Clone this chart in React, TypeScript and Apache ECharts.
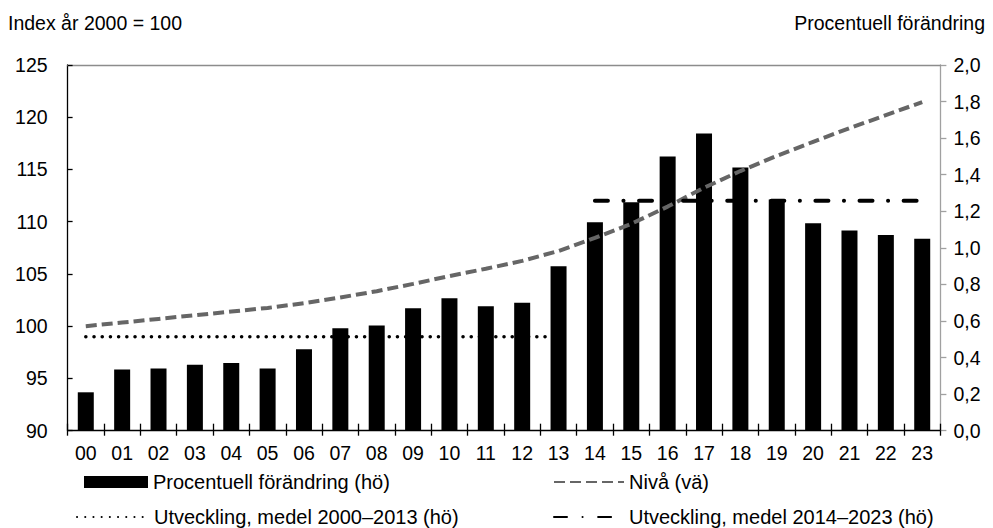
import React, { useEffect, useRef } from "react";
import * as echarts from "echarts";

const categories = ["00","01","02","03","04","05","06","07","08","09","10","11","12","13","14","15","16","17","18","19","20","21","22","23"];
const procentuellForandring = [0.21,0.335,0.34,0.36,0.37,0.34,0.445,0.56,0.575,0.67,0.725,0.68,0.70,0.90,1.14,1.25,1.50,1.625,1.44,1.265,1.135,1.095,1.07,1.05];
const niva = [100.0,100.35,100.7,101.05,101.4,101.75,102.2,102.75,103.35,104.05,104.8,105.5,106.25,107.2,108.45,109.8,111.45,113.25,114.85,116.3,117.65,118.95,120.2,121.45];
const medel2000_2013 = [0.514,0.514,0.514,0.514,0.514,0.514,0.514,0.514,0.514,0.514,0.514,0.514,0.514,0.514,null,null,null,null,null,null,null,null,null,null];
const medel2014_2023 = [null,null,null,null,null,null,null,null,null,null,null,null,null,null,1.257,1.257,1.257,1.257,1.257,1.257,1.257,1.257,1.257,1.257];

const leftTitle = "Index år 2000 = 100";
const rightTitle = "Procentuell förändring";
const names = {
  bar: "Procentuell förändring (hö)",
  niva: "Nivå (vä)",
  m1: "Utveckling, medel 2000–2013 (hö)",
  m2: "Utveckling, medel 2014–2023 (hö)",
};

const FONT = "Liberation Sans, Arial, sans-serif";
const FS = 19.5;
const LFS = 20;

export default function App() {
  const ref = useRef<HTMLDivElement>(null);
  useEffect(() => {
    if (!ref.current) return;
    const chart = echarts.init(ref.current, undefined, { renderer: "svg" });
    const textStyle = { fontFamily: FONT, fontSize: FS, color: "#000" };
    const legendText = { fontFamily: FONT, fontSize: LFS, color: "#000" };
    const hiddenSymbol = { opacity: 0 };
    chart.setOption({
      animation: false,
      backgroundColor: "#fff",
      textStyle: { fontFamily: FONT },
      grid: { left: 67.6, right: 52.6, top: 65, bottom: 97.3, containLabel: false },
      xAxis: [
        {
          type: "category",
          data: categories,
          position: "bottom",
          boundaryGap: true,
          axisLine: { show: true, lineStyle: { color: "#000", width: 1.3 } },
          axisTick: { show: true, inside: false, length: 5, lineStyle: { color: "#000", width: 1.3 } },
          axisLabel: { ...textStyle, margin: 12 },
          splitLine: { show: false },
        },
        {
          type: "category",
          data: categories,
          position: "bottom",
          boundaryGap: true,
          axisLine: { show: false },
          axisTick: { show: true, inside: true, length: 7, lineStyle: { color: "#000", width: 1.3 } },
          axisLabel: { show: false },
          splitLine: { show: false },
        },
        {
          type: "category",
          data: categories,
          position: "top",
          boundaryGap: true,
          axisLine: { show: true, lineStyle: { color: "#8c8c8c", width: 1.3 } },
          axisTick: { show: false },
          axisLabel: { show: false },
          splitLine: { show: false },
        },
      ],
      yAxis: [
        {
          type: "value",
          position: "left",
          min: 90,
          max: 125,
          interval: 5,
          axisLine: { show: true, lineStyle: { color: "#000", width: 1.3 } },
          axisTick: { show: true, inside: true, length: 5, lineStyle: { color: "#000", width: 1.3 } },
          axisLabel: { ...textStyle, margin: 20 },
          splitLine: { show: false },
        },
        {
          type: "value",
          position: "right",
          min: 0,
          max: 2,
          interval: 0.2,
          axisLine: { show: true, lineStyle: { color: "#a0a0a0", width: 1.3 } },
          axisTick: { show: true, inside: false, length: 6, lineStyle: { color: "#a0a0a0", width: 1.3 } },
          axisLabel: {
            ...textStyle,
            margin: 13,
            formatter: (v: number) => v.toFixed(1).replace(".", ","),
          },
          splitLine: { show: false },
        },
      ],
      legend: [
        {
          data: [{ name: names.bar, icon: "rect" }],
          left: 84, top: 472, padding: 0,
          itemWidth: 64, itemHeight: 12,
          textStyle: legendText,
          selectedMode: false,
        },
        {
          data: [names.niva],
          left: 553, top: 472, padding: 0,
          itemWidth: 70, itemHeight: 14,
          itemStyle: hiddenSymbol,
          textStyle: legendText,
          selectedMode: false,
        },
        {
          data: [names.m1],
          left: 76, top: 507, padding: 0,
          itemWidth: 72, itemHeight: 14,
          itemStyle: hiddenSymbol,
          textStyle: legendText,
          selectedMode: false,
        },
        {
          data: [names.m2],
          left: 553, top: 507, padding: 0,
          itemWidth: 70, itemHeight: 14,
          itemStyle: hiddenSymbol,
          textStyle: legendText,
          selectedMode: false,
        },
      ],
      graphic: [
        { type: "text", left: 8, top: 13, style: { text: leftTitle, font: `${FS}px ${FONT}`, fill: "#000" } },
        { type: "text", right: 8, top: 13, style: { text: rightTitle, font: `${FS}px ${FONT}`, fill: "#000" } },
      ],
      series: [
        {
          name: names.bar,
          type: "bar",
          xAxisIndex: 0,
          yAxisIndex: 1,
          data: procentuellForandring,
          barWidth: 16,
          itemStyle: { color: "#000" },
        },
        {
          name: names.niva,
          type: "line",
          xAxisIndex: 0,
          yAxisIndex: 0,
          data: niva,
          symbol: "none",
          smooth: false,
          lineStyle: { color: "#666666", width: 4, type: [11, 5] },
          itemStyle: { color: "#666666" },
        },
        {
          name: names.m1,
          type: "line",
          xAxisIndex: 0,
          yAxisIndex: 1,
          data: medel2000_2013,
          symbol: "none",
          lineStyle: { color: "#000", width: 3.5, type: [0.1, 8.1], cap: "round" },
          itemStyle: { color: "#000" },
        },
        {
          name: names.m2,
          type: "line",
          xAxisIndex: 0,
          yAxisIndex: 1,
          data: medel2014_2023,
          symbol: "none",
          lineStyle: { color: "#000", width: 4, type: [13, 15.5, 0.1, 15.5], cap: "round" },
          itemStyle: { color: "#000" },
        },
      ],
    });
    return () => chart.dispose();
  }, []);
  return (
    <div
      ref={ref}
      style={{ position: "fixed", left: 0, top: 0, width: 993, height: 528 }}
    />
  );
}
